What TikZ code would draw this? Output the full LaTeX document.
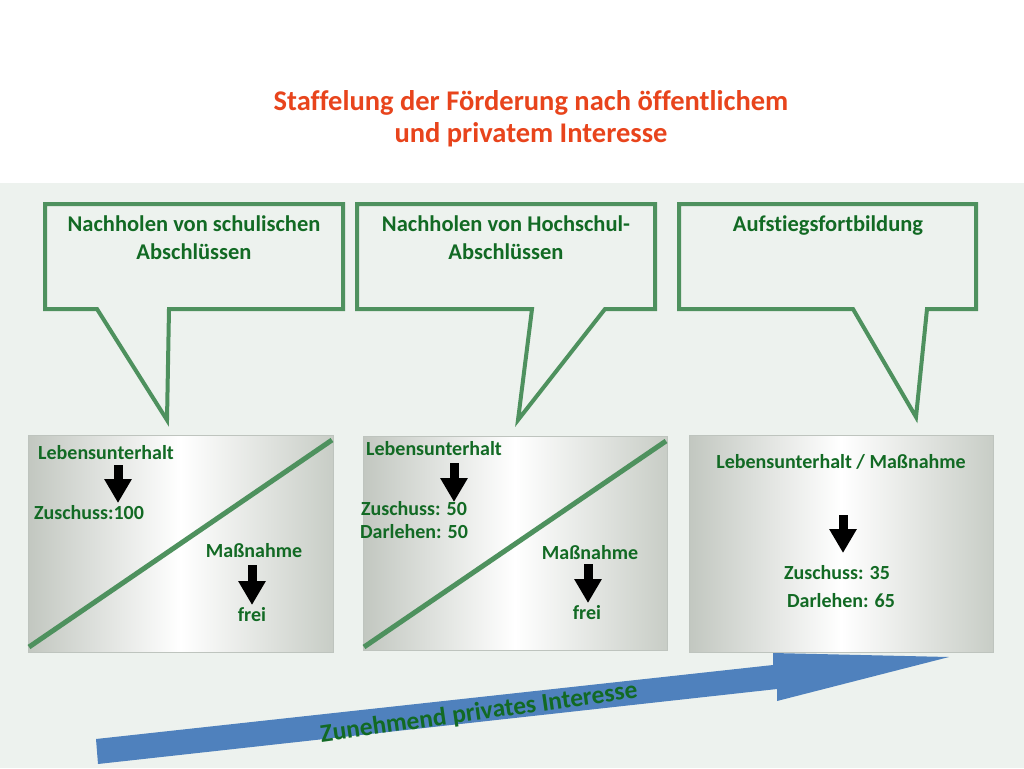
\documentclass[tikz,border=0pt]{standalone}
\usepackage{fontspec}
\setmainfont{Carlito}[Ligatures={NoCommon}]
\usetikzlibrary{arrows.meta}
\definecolor{bgc}{RGB}{237,242,238}
\definecolor{cgreen}{RGB}{78,145,94}
\definecolor{tgreen}{RGB}{18,106,36}
\definecolor{ttl}{RGB}{232,68,28}
\definecolor{gboxl}{RGB}{194,199,192}
\definecolor{gboxr}{RGB}{200,205,198}
\definecolor{gborder}{RGB}{190,196,190}
\definecolor{barrow}{RGB}{79,129,189}
\tikzset{
  callout/.style={draw=cgreen, line width=4pt, line join=miter},
  graybox/.style={draw=gborder, line width=0.8pt, left color=gboxl, right color=gboxr, middle color=white, inner sep=0pt},
  diag/.style={draw=cgreen, line width=5pt},
  ctext/.style={text=tgreen, font=\bfseries\fontsize{22.5}{28}\selectfont, align=center, anchor=base, inner sep=0pt},
  btext/.style={text=tgreen, font=\bfseries\fontsize{20}{23}\selectfont, anchor=base, inner sep=0pt},
  ttext/.style={text=ttl, font=\bfseries\fontsize{28.5}{32}\selectfont, anchor=base, inner sep=0pt},
  blockarrow/.style={line width=9pt, black, -{Triangle[width=26pt,length=24pt]}},
}
\begin{document}
\begin{tikzpicture}[x=1pt,y=-1pt]
\useasboundingbox (0,0) rectangle (1024,768);
\fill[white] (0,0) rectangle (1024,183);
\fill[bgc] (0,183) rectangle (1024,768);

% title
\node[ttext] (t1) at (531,110) {Staffelung der Förderung nach öffentlichem};
\node[ttext] (t2) at (531,142) {und privatem Interesse};

% callouts
\draw[callout] (45,204) -- (343,204) -- (343,309) -- (169,309) -- (167,420) -- (97,309) -- (45,309) -- cycle;
\draw[callout] (357,204) -- (655,204) -- (655,309) -- (605,309) -- (518,420) -- (532,309) -- (357,309) -- cycle;
\draw[callout] (679,204) -- (976,204) -- (976,309) -- (927,309) -- (916,417) -- (853,309) -- (679,309) -- cycle;

\node[ctext] (c1) at (194,259) {Nachholen von schulischen\\Abschlüssen};
\node[ctext] (c2) at (506,259) {Nachholen von Hochschul-\\Abschlüssen};
\node[ctext] (c3) at (828,231) {Aufstiegsfortbildung};

% gray boxes
\node[graybox, minimum width=305pt, minimum height=217pt] (b1) at (180.5,543.5) {};
\node[graybox, minimum width=304pt, minimum height=214pt] (b2) at (515,543) {};
\node[graybox, minimum width=304pt, minimum height=217pt] (b3) at (841,543.5) {};

\coordinate (d1a) at (29,647);
\coordinate (d1b) at (332,440);
\coordinate (d2a) at (364,647);
\coordinate (d2b) at (666,441);
\draw[diag] (d1a) -- (d1b);
\draw[diag] (d2a) -- (d2b);

% box 1
\node[btext] (l1) at (106,459.5) {Lebensunterhalt};
\node[btext] (z1) at (89,519.5) {Zuschuss:100};
\node[btext] (m1) at (254,557.5) {Maßnahme};
\node[btext] (f1) at (252,621.5) {frei};
\coordinate (a1s) at (118,465);
\coordinate (a1e) at (118,503);
\coordinate (a2s) at (252,565);
\coordinate (a2e) at (252,605);
\draw[blockarrow] (a1s) -- (a1e);
\draw[blockarrow] (a2s) -- (a2e);

% box 2
\node[btext] (l2) at (434,455.5) {Lebensunterhalt};
\node[btext] (z2) at (414,515.5) {Zuschuss: 50};
\node[btext] (d2) at (414,538.5) {Darlehen: 50};
\node[btext] (m2) at (590,559.5) {Maßnahme};
\node[btext] (f2) at (587,619.5) {frei};
\coordinate (a3s) at (454,463);
\coordinate (a3e) at (454,502);
\coordinate (a4s) at (588,564);
\coordinate (a4e) at (588,603);
\draw[blockarrow] (a3s) -- (a3e);
\draw[blockarrow] (a4s) -- (a4e);

% box 3
\node[btext] (l3) at (841,468.5) {Lebensunterhalt / Maßnahme};
\node[btext] (z3) at (837,579.5) {Zuschuss: 35};
\node[btext] (d3) at (841,607.5) {Darlehen: 65};
\coordinate (a5s) at (843,515);
\coordinate (a5e) at (843,553);
\draw[blockarrow] (a5s) -- (a5e);

% big blue arrow
\fill[barrow] (96,739) -- (773,665) -- (773,653) -- (949,657) -- (777,701) -- (777,689) -- (98,764) -- cycle;
\node[text=tgreen, font=\bfseries\fontsize{25.5}{30}\selectfont, rotate=8, inner sep=0pt] (zp) at (479,713) {Zunehmend privates Interesse};
\end{tikzpicture}
\end{document}
